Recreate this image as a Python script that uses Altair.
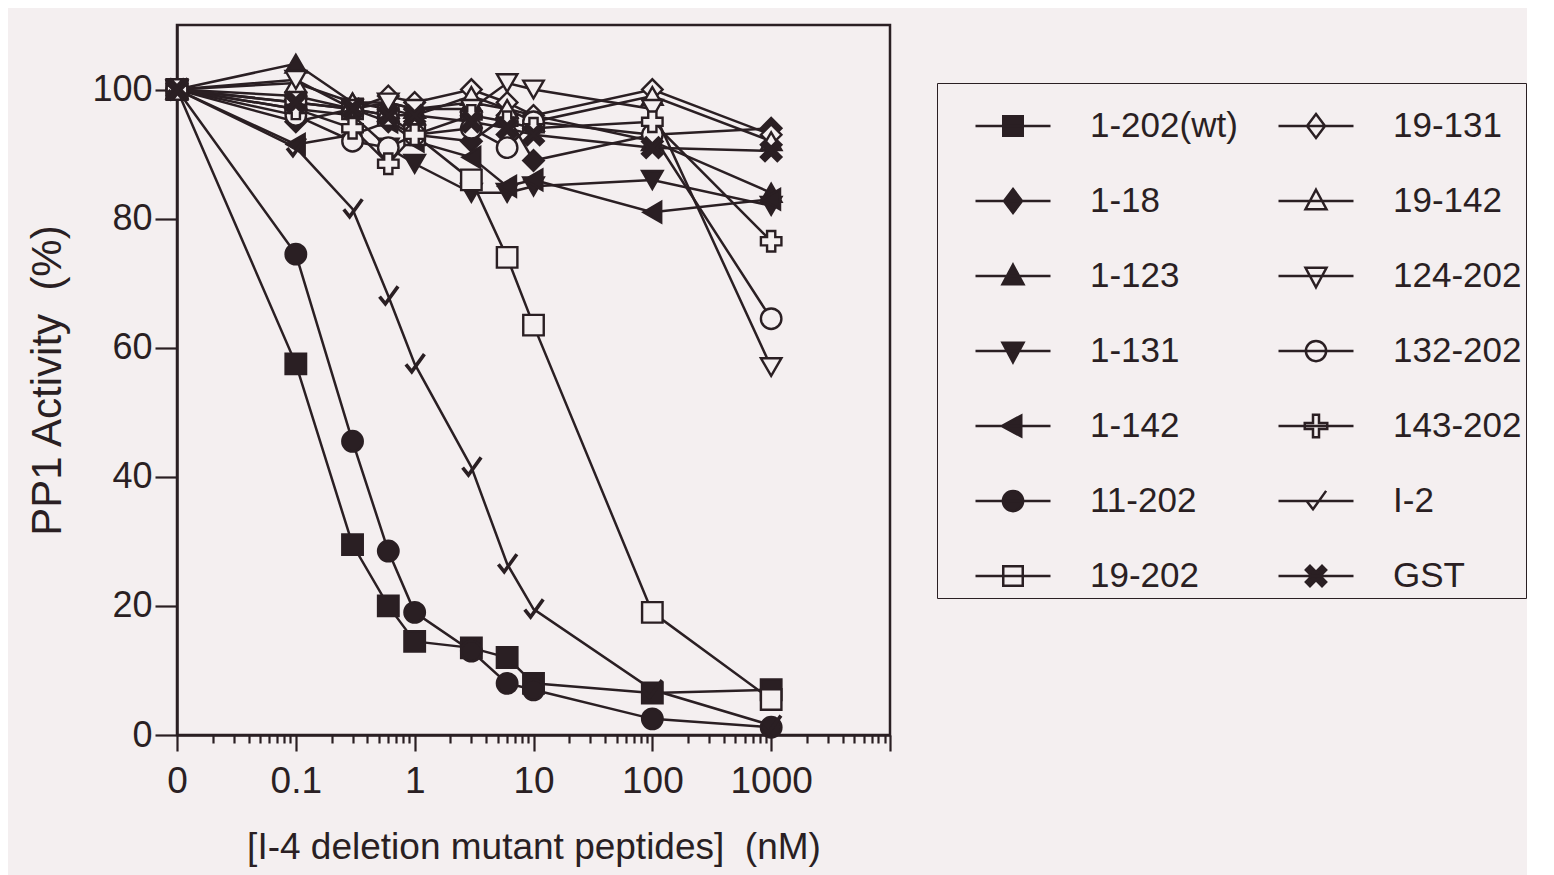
import altair as alt
import pandas as pd

# ---------------- data ----------------
conc = [0, 0.1, 0.3, 0.6, 1, 3, 6, 10, 100, 1000]   # nM ; 0 = no peptide

series_names = ["1-202(wt)", "1-18", "1-123", "1-131", "1-142", "11-202", "19-202",
                "19-131", "19-142", "124-202", "132-202", "143-202", "I-2", "GST"]

act_1_202 = [100, 57.5, 29.5, 20, 14.5, 13.5, 12, 8, 6.5, 7]
act_1_18 = [100, 95, 97, 95, 93, 92, 96, 89, 93, 94]
act_1_123 = [100, 104, 98, 98, 97, 98, 97, 96, 92, 84]
act_1_131 = [100, 97, 96, 91, 88.5, 84, 84, 85, 86, 82]
act_1_142 = [100, 91.5, 93, 95, 92, 89.5, 85, 86, 81, 83]
act_11_202 = [100, 74.5, 45.5, 28.5, 19, 13, 8, 7, 2.5, 1.2]
act_19_202 = [100, 98, 97, 96, 93, 86, 74, 63.5, 19, 5.5]
act_19_131 = [100, 99, 97, 99, 98, 100, 98, 96, 100, 93]
act_19_142 = [100, 101, 98, 97, 96, 99, 97, 95, 99, 92]
act_124_202 = [100, 101.5, 97, 98, 97, 97, 101, 100, 97, 57]
act_132_202 = [100, 96, 92, 91, 93, 94, 91, 95, 93, 64.5]
act_143_202 = [100, 97, 94, 88.5, 93, 96, 95, 94, 95, 76.5]
act_I_2 = [100, 91, 81.5, 68, 57.5, 41.5, 26.5, 19.5, 7, 1.5]
act_GST = [100, 98, 97, 96, 96, 95, 94, 93, 91, 90.5]

activity = dict(zip(series_names, [act_1_202, act_1_18, act_1_123, act_1_131, act_1_142,
                                   act_11_202, act_19_202, act_19_131, act_19_142,
                                   act_124_202, act_132_202, act_143_202, act_I_2, act_GST]))

# ---------------- style ----------------
ink = "#2a1f23"
bg = "#f4eff0"
font = "Liberation Sans"

X_PATH = "M-1,-0.6L-0.6,-1L0,-0.4L0.6,-1L1,-0.6L0.4,0L1,0.6L0.6,1L0,0.4L-0.6,1L-1,0.6L-0.4,0Z"
CHECK_PATH = "M-0.9,0.05L-0.3,0.8L1,-1"

marker_shape = {
    "1-202(wt)": "square", "1-18": "diamond", "1-123": "triangle-up",
    "1-131": "triangle-down", "1-142": "triangle-left", "11-202": "circle",
    "19-202": "square", "19-131": "diamond", "19-142": "triangle-up",
    "124-202": "triangle-down", "132-202": "circle", "143-202": "cross",
    "I-2": CHECK_PATH, "GST": X_PATH,
}
marker_fill = {
    "1-202(wt)": ink, "1-18": ink, "1-123": ink, "1-131": ink, "1-142": ink,
    "11-202": ink, "19-202": bg, "19-131": bg, "19-142": bg, "124-202": bg,
    "132-202": bg, "143-202": bg, "I-2": "transparent", "GST": ink,
}

LINE = "M-1,0H1"
lg_marks = {
    "square": "M-0.26,-0.26H0.26V0.26H-0.26Z",
    "diamond": "M0,-0.32L0.24,0L0,0.32L-0.24,0Z",
    "triangle-up": "M0,-0.3L0.28,0.22L-0.28,0.22Z",
    "triangle-down": "M0,0.3L0.28,-0.22L-0.28,-0.22Z",
    "triangle-left": "M-0.3,0L0.22,-0.28L0.22,0.28Z",
    "circle": "M-0.27,0A0.27,0.27 0 1,0 0.27,0A0.27,0.27 0 1,0 -0.27,0Z",
    "cross": "M-0.08,-0.3H0.08V-0.08H0.3V0.08H0.08V0.3H-0.08V0.08H-0.3V-0.08H-0.08Z",
    CHECK_PATH: "M-0.25,0L-0.08,0.22L0.27,-0.27",
    X_PATH: "M-0.27,-0.16L-0.16,-0.27L0,-0.11L0.16,-0.27L0.27,-0.16L0.11,0L0.27,0.16"
            "L0.16,0.27L0,0.11L-0.16,0.27L-0.27,0.16L-0.11,0Z",
}
legend_shape = {s: LINE + " " + lg_marks[marker_shape[s]] for s in series_names}

rows = []
for s in series_names:
    for c, v in zip(conc, activity[s]):
        rows.append({"series": s, "conc": c, "xpos": c if c > 0 else 0.01, "activity": v})
df = pd.DataFrame(rows)

# ---------------- axes ----------------
xticks = []
for e in range(-2, 4):
    for m in range(1, 10):
        xticks.append(round(m * 10 ** e, 8))
xticks.append(10000)
major = "abs(log(datum.value)/LN10 - round(log(datum.value)/LN10)) < 1e-6"

xscale = alt.Scale(type="log", domain=[0.01, 10000], nice=False)
yscale = alt.Scale(domain=[0, 110], nice=False, zero=False)

xaxis = alt.Axis(
    values=xticks,
    labelExpr="datum.value < 0.011 ? '0' : ((" + major + ") && datum.value < 5000 ? format(datum.value, '~g') : '')",
    tickSize={"condition": {"test": major, "value": 16}, "value": 8},
    tickWidth=2.2, tickColor=ink, domainColor=ink, domainWidth=2.5,
    labelFontSize=37, labelFont=font, labelColor=ink, labelPadding=12,
    labelOverlap=False, labelFlush=False,
    titleFontSize=37, titleFont=font, titleFontWeight="normal", titleColor=ink,
    titlePadding=30, grid=False,
)
yaxis = alt.Axis(
    values=[0, 20, 40, 60, 80, 100], tickSize=22, tickWidth=2.2, tickColor=ink,
    domainColor=ink, domainWidth=2.5, labelFontSize=36, labelFont=font, labelColor=ink,
    labelPadding=3, titleFontSize=42, titleFont=font, titleFontWeight="normal",
    titleColor=ink, titlePadding=22, grid=False,
)

base = alt.Chart(df)

lines = base.mark_line(color=ink, strokeWidth=2.5).encode(
    x=alt.X("xpos:Q", scale=xscale, axis=xaxis,
            title="[I-4 deletion mutant peptides]\u00a0\u00a0(nM)"),
    y=alt.Y("activity:Q", scale=yscale, axis=yaxis, title="PP1 Activity\u00a0\u00a0(%)"),
    detail="series:N",
)

point_layers = []
for s in series_names:
    point_layers.append(
        base.transform_filter(alt.datum.series == s).mark_point(
            shape=marker_shape[s], fill=marker_fill[s], stroke=ink,
            size=420 if s != "I-2" else 380, strokeWidth=2.4 if s != "I-2" else 3.6,
            opacity=1,
        ).encode(x="xpos:Q", y="activity:Q")
    )

legend_layer = base.transform_filter("false").mark_point(
    opacity=1, strokeWidth=2.5
).encode(
    x="xpos:Q",
    y="activity:Q",
    shape=alt.Shape(
        "series:N",
        scale=alt.Scale(domain=series_names, range=[legend_shape[s] for s in series_names]),
        legend=alt.Legend(
            orient="none", legendX=760, legendY=58, columns=2, title=None,
            symbolSize=5625, symbolStrokeWidth=2.5, symbolStrokeColor=ink, symbolOpacity=1,
            symbolOffset=33, labelFontSize=35, labelFont=font, labelColor=ink, labelOffset=38,
            rowPadding=18, columnPadding=6, padding=4, gridAlign="all",
            strokeColor=ink, fillColor=bg, symbolLimit=0, labelLimit=0,
        ),
    ),
    fill=alt.Fill(
        "series:N",
        scale=alt.Scale(domain=series_names, range=[marker_fill[s] for s in series_names]),
        legend=None,
    ),
    stroke=alt.Stroke(
        "series:N",
        scale=alt.Scale(domain=series_names, range=[ink for s in series_names]),
        legend=None,
    ),
)

chart = alt.layer(lines, *point_layers, legend_layer).properties(
    width=713, height=710,
    padding={"left": 18, "top": 17, "right": 0, "bottom": 30},
).configure(background=bg).configure_view(stroke=ink, strokeWidth=2.5)

chart.save("out.html", embed_options={"renderer": "svg", "actions": False})
